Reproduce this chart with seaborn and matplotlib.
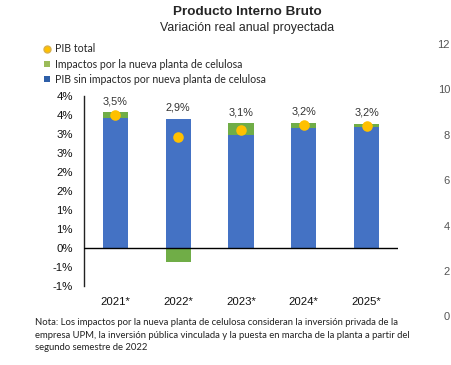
import matplotlib
matplotlib.use("Agg")
import matplotlib.pyplot as plt
import seaborn as sns
import pandas as pd
import numpy as np
from matplotlib.lines import Line2D

years = ["2021*", "2022*", "2023*", "2024*", "2025*"]
pib_sin = [3.41, 3.39, 2.97, 3.17, 3.19]
impactos = [0.16, -0.38, 0.31, 0.13, 0.07]
pib_total = [3.5, 2.93, 3.1, 3.24, 3.22]
total_labels = ["3,5%", "2,9%", "3,1%", "3,2%", "3,2%"]
ytick_vals = [-1.0, -0.5, 0.0, 0.5, 1.0, 1.5, 2.0, 2.5, 3.0, 3.5, 4.0]
ytick_labels = ["-1%", "-1%", "0%", "1%", "1%", "2%", "2%", "3%", "3%", "4%", "4%"]
side_labels = ["12", "10", "8", "6", "4", "2", "0"]

BLUE = "#4472C4"
GREEN = "#70AD47"
GOLD = "#FFC000"

sns.set_style("white")
plt.rcParams["font.family"] = ["Liberation Sans", "DejaVu Sans"]

df = pd.DataFrame({"year": years, "sin": pib_sin, "imp": impactos, "total": pib_total})
df["imp_bottom"] = [s if i > 0 else 0.0 for s, i in zip(pib_sin, impactos)]

fig = plt.figure(figsize=(4.51, 3.65), dpi=100)
ax = fig.add_axes([84/451, 1-286/365, (398-84)/451, (286-96)/365])

sns.barplot(data=df, x="year", y="sin", color=BLUE, width=0.4, ax=ax,
            saturation=1, linewidth=0, order=years)
sns.barplot(data=df, x="year", y="imp", color=GREEN, width=0.4, ax=ax,
            saturation=1, linewidth=0, order=years, bottom=df["imp_bottom"].values)
sns.pointplot(data=df, x="year", y="total", color=GOLD, linestyle="none",
              markers="o", markersize=7.6, ax=ax, order=years, markeredgewidth=0)

ax.set_xlim(-0.5, 4.5)
ax.set_ylim(-1, 4)
ax.set_yticks(ytick_vals)
ax.set_yticklabels(ytick_labels)
ax.set_xlabel("")
ax.set_ylabel("")
ax.axhline(0, color="black", lw=1.0, zorder=5)
for s in ["top", "right", "bottom"]:
    ax.spines[s].set_visible(False)
ax.spines["left"].set_color("#222222")
ax.spines["left"].set_linewidth(1.0)
ax.tick_params(axis="y", length=0, labelsize=8.2, pad=8, colors="#111111")
ax.tick_params(axis="x", length=0, labelsize=8.2, pad=0, colors="#111111")
for lab in ax.get_xticklabels():
    lab.set_y(-0.06)

tops = [max(s, s + i) for s, i in zip(pib_sin, impactos)]
for xi, (t, lab) in enumerate(zip(tops, total_labels)):
    ax.annotate(lab, (xi, t), xytext=(0, 4.5), textcoords="offset points",
                ha="center", va="bottom", fontsize=7.8, color="#333333")

fig.text(247/451, 1-12/365, "Producto Interno Bruto", ha="center", va="center",
         fontsize=9.7, fontweight="bold")
fig.text(247/451, 1-27.5/365, "Variación real anual proyectada", ha="center", va="center",
         fontsize=8.9)

handles = [
    Line2D([], [], marker="o", color="none", markerfacecolor=GOLD, markeredgecolor="#D9B04A",
           markersize=5),
    Line2D([], [], marker="s", color="none", markerfacecolor="#9BBB59", markeredgewidth=0,
           markersize=5),
    Line2D([], [], marker="s", color="none", markerfacecolor="#2E5FA8", markeredgewidth=0,
           markersize=5),
]
labels = ["PIB total", "Impactos por la nueva planta de celulosa",
          "PIB sin impactos por nueva planta de celulosa"]
fig.legend(handles, labels, loc="upper left", bbox_to_anchor=(44/451, 1-43.5/365),
           frameon=False, handlelength=0.6, handletextpad=0.4, labelspacing=0.4,
           borderaxespad=0, borderpad=0,
           prop={"family": ["Lato", "DejaVu Sans"], "size": 7.6})

note = ("Nota: Los impactos por la nueva planta de celulosa consideran la inversión privada de la\n"
        "empresa UPM, la inversión pública vinculada y la puesta en marcha de la planta a partir del\n"
        "segundo semestre de 2022")
fig.text(35/451, 1-318/365, note, ha="left", va="top", fontsize=6.85,
         family=["Lato", "DejaVu Sans"], color="#222222", linespacing=1.5)

ys = [45, 90, 136, 181, 227, 272, 317]
for y, lab in zip(ys, side_labels):
    fig.text(450/451, 1-y/365, lab, ha="right", va="center", fontsize=8, color="#555555")

fig.savefig("out.png", dpi=100)
